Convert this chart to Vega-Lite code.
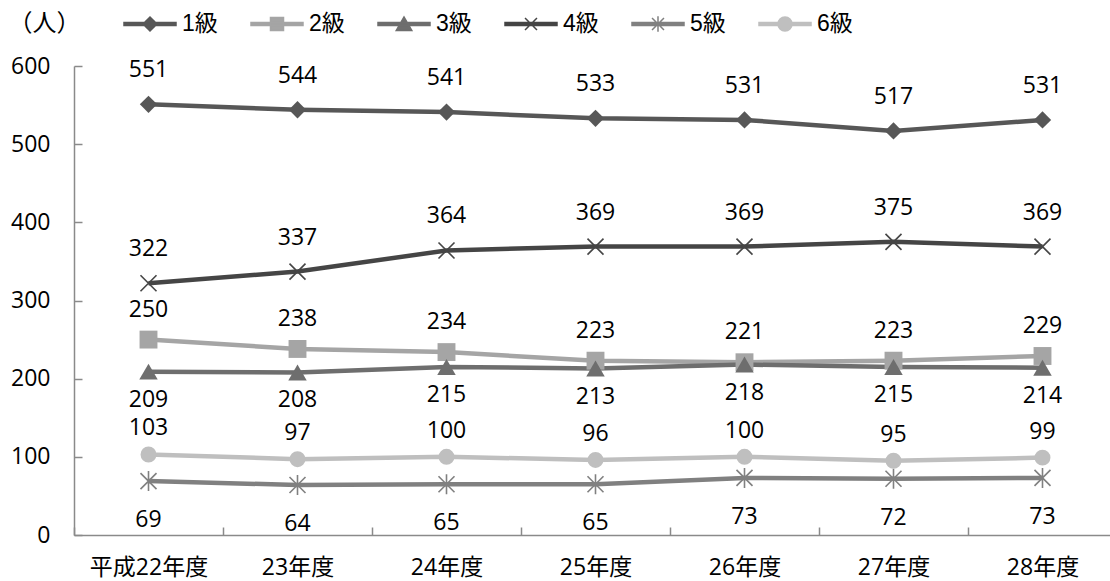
{
  "$schema": "https://vega.github.io/schema/vega-lite/v6.json",
  "width": 1036,
  "height": 469,
  "autosize": {"type": "none"},
  "padding": {"left": 74, "top": 66, "right": 0, "bottom": 46},
  "background": "white",
  "config": {"view": {"stroke": null}},
  "data": {
    "values": [
      {"year": "平成22年度", "grade": "1級", "value": 551},
      {"year": "23年度", "grade": "1級", "value": 544},
      {"year": "24年度", "grade": "1級", "value": 541},
      {"year": "25年度", "grade": "1級", "value": 533},
      {"year": "26年度", "grade": "1級", "value": 531},
      {"year": "27年度", "grade": "1級", "value": 517},
      {"year": "28年度", "grade": "1級", "value": 531},
      {"year": "平成22年度", "grade": "2級", "value": 250},
      {"year": "23年度", "grade": "2級", "value": 238},
      {"year": "24年度", "grade": "2級", "value": 234},
      {"year": "25年度", "grade": "2級", "value": 223},
      {"year": "26年度", "grade": "2級", "value": 221},
      {"year": "27年度", "grade": "2級", "value": 223},
      {"year": "28年度", "grade": "2級", "value": 229},
      {"year": "平成22年度", "grade": "3級", "value": 209},
      {"year": "23年度", "grade": "3級", "value": 208},
      {"year": "24年度", "grade": "3級", "value": 215},
      {"year": "25年度", "grade": "3級", "value": 213},
      {"year": "26年度", "grade": "3級", "value": 218},
      {"year": "27年度", "grade": "3級", "value": 215},
      {"year": "28年度", "grade": "3級", "value": 214},
      {"year": "平成22年度", "grade": "4級", "value": 322},
      {"year": "23年度", "grade": "4級", "value": 337},
      {"year": "24年度", "grade": "4級", "value": 364},
      {"year": "25年度", "grade": "4級", "value": 369},
      {"year": "26年度", "grade": "4級", "value": 369},
      {"year": "27年度", "grade": "4級", "value": 375},
      {"year": "28年度", "grade": "4級", "value": 369},
      {"year": "平成22年度", "grade": "5級", "value": 69},
      {"year": "23年度", "grade": "5級", "value": 64},
      {"year": "24年度", "grade": "5級", "value": 65},
      {"year": "25年度", "grade": "5級", "value": 65},
      {"year": "26年度", "grade": "5級", "value": 73},
      {"year": "27年度", "grade": "5級", "value": 72},
      {"year": "28年度", "grade": "5級", "value": 73},
      {"year": "平成22年度", "grade": "6級", "value": 103},
      {"year": "23年度", "grade": "6級", "value": 97},
      {"year": "24年度", "grade": "6級", "value": 100},
      {"year": "25年度", "grade": "6級", "value": 96},
      {"year": "26年度", "grade": "6級", "value": 100},
      {"year": "27年度", "grade": "6級", "value": 95},
      {"year": "28年度", "grade": "6級", "value": 99}
    ]
  },
  "encoding": {
    "x": {
      "field": "year",
      "type": "ordinal",
      "sort": null,
      "scale": {"type": "band", "paddingInner": 0, "paddingOuter": 0, "range": [0, 1043]},
      "axis": {
        "title": null,
        "labelAngle": 0,
        "labelFont": "Open Sans, Noto Sans CJK JP",
        "labelFontSize": 23,
        "labelColor": "#000000",
        "labelPadding": 29,
        "domainColor": "#8a8a8a",
        "domainWidth": 1.5,
        "tickColor": "#8a8a8a",
        "tickWidth": 1.5,
        "tickSize": -8,
        "tickBand": "extent",
        "grid": false
      }
    },
    "y": {
      "field": "value",
      "type": "quantitative",
      "scale": {"domain": [0, 600]},
      "axis": {
        "values": [0, 100, 200, 300, 400, 500, 600],
        "title": "（人）",
        "titleAngle": 0,
        "titleAlign": "left",
        "titleBaseline": "middle",
        "titleX": -66,
        "titleY": -43,
        "titleFont": "Liberation Sans, Noto Sans CJK JP",
        "titleFontSize": 24,
        "titleFontWeight": "normal",
        "titleColor": "#000000",
        "labelFont": "Open Sans",
        "labelFontSize": 23,
        "labelColor": "#000000",
        "labelPadding": 32,
        "domainColor": "#8a8a8a",
        "domainWidth": 1.5,
        "tickColor": "#8a8a8a",
        "tickWidth": 1.5,
        "tickSize": -8,
        "grid": false
      }
    }
  },
  "layer": [
    {
      "mark": {"type": "line", "strokeWidth": 4.5},
      "encoding": {
        "color": {
          "field": "grade",
          "type": "nominal",
          "scale": {
            "domain": ["1級", "2級", "3級", "4級", "5級", "6級"],
            "range": ["#575757", "#a5a5a5", "#6e6e6e", "#454545", "#808080", "#bfbfbf"]
          },
          "legend": {
            "orient": "none",
            "legendX": 49,
            "legendY": -69,
            "direction": "horizontal",
            "columns": 6,
            "title": null,
            "symbolSize": 2704,
            "symbolType": "circle",
            "labelFont": "Liberation Sans, Noto Sans CJK JP",
            "labelFontSize": 23,
            "labelColor": "#000000",
            "labelOffset": 5,
            "columnPadding": 30,
            "encode": {
              "symbols": {
                "update": {
                  "shape": {"signal": "datum.value === '1級' ? 'M-1,-0.06L1,-0.06L1,0.06L-1,0.06ZM-0.27,0L0,-0.27L0.27,0L0,0.27Z' : datum.value === '2級' ? 'M-1,-0.06L1,-0.06L1,0.06L-1,0.06ZM-0.25,-0.25L0.25,-0.25L0.25,0.25L-0.25,0.25Z' : datum.value === '3級' ? 'M-1,-0.06L1,-0.06L1,0.06L-1,0.06ZM-0.3,0.25L0,-0.27L0.3,0.25Z' : datum.value === '4級' ? 'M-1,-0.06L1,-0.06L1,0.06L-1,0.06ZM-0.23,-0.23L0.23,0.23M-0.23,0.23L0.23,-0.23' : datum.value === '5級' ? 'M-1,-0.06L1,-0.06L1,0.06L-1,0.06ZM-0.23,-0.23L0.23,0.23M-0.23,0.23L0.23,-0.23M0,-0.3L0,0.3' : 'M-1,-0.06L1,-0.06L1,0.06L-1,0.06ZM-0.27,0A0.27,0.27,0,1,1,0.27,0A0.27,0.27,0,1,1,-0.27,0Z'"},
                  "size": {"value": 2704},
                  "fill": {"signal": "scale('color', datum.value)"},
                  "stroke": {"signal": "scale('color', datum.value)"},
                  "strokeWidth": {"value": 1.5},
                  "opacity": {"value": 1},
                  "fillOpacity": {"value": 1},
                  "strokeOpacity": {"value": 1}
                }
              }
            }
          }
        },
        "detail": {"field": "grade"}
      }
    },
    {
      "transform": [{"filter": "datum.grade === '1級'"}],
      "mark": {"type": "point", "filled": true, "opacity": 1, "shape": "diamond", "size": 300, "color": "#575757"}
    },
    {
      "transform": [{"filter": "datum.grade === '2級'"}],
      "mark": {"type": "point", "filled": true, "opacity": 1, "shape": "square", "size": 320, "color": "#a5a5a5"}
    },
    {
      "transform": [{"filter": "datum.grade === '3級'"}],
      "mark": {"type": "point", "filled": true, "opacity": 1, "shape": "triangle-up", "size": 340, "color": "#6e6e6e"}
    },
    {
      "transform": [{"filter": "datum.grade === '4級'"}],
      "mark": {"type": "point", "filled": false, "opacity": 1, "shape": "M-1,-1L1,1M-1,1L1,-1", "size": 256, "strokeWidth": 1.6, "color": "#454545"}
    },
    {
      "transform": [{"filter": "datum.grade === '5級'"}],
      "mark": {"type": "point", "filled": false, "opacity": 1, "shape": "M-1,-1L1,1M-1,1L1,-1M0,-1.25L0,1.25", "size": 256, "strokeWidth": 1.6, "color": "#808080"}
    },
    {
      "transform": [{"filter": "datum.grade === '6級'"}],
      "mark": {"type": "point", "filled": true, "opacity": 1, "shape": "circle", "size": 254, "color": "#bfbfbf"}
    },
    {
      "transform": [{"filter": "datum.grade === '1級' || datum.grade === '4級'"}],
      "mark": {"type": "text", "dy": -34, "font": "Open Sans", "fontSize": 23, "color": "#000000", "baseline": "middle"},
      "encoding": {"text": {"field": "value", "type": "quantitative"}}
    },
    {
      "transform": [{"filter": "datum.grade === '2級'"}],
      "mark": {"type": "text", "dy": -30, "font": "Open Sans", "fontSize": 23, "color": "#000000", "baseline": "middle"},
      "encoding": {"text": {"field": "value", "type": "quantitative"}}
    },
    {
      "transform": [{"filter": "datum.grade === '6級'"}],
      "mark": {"type": "text", "dy": -26, "font": "Open Sans", "fontSize": 23, "color": "#000000", "baseline": "middle"},
      "encoding": {"text": {"field": "value", "type": "quantitative"}}
    },
    {
      "transform": [{"filter": "datum.grade === '3級'"}],
      "mark": {"type": "text", "dy": 28, "font": "Open Sans", "fontSize": 23, "color": "#000000", "baseline": "middle"},
      "encoding": {"text": {"field": "value", "type": "quantitative"}}
    },
    {
      "transform": [{"filter": "datum.grade === '5級'"}],
      "mark": {"type": "text", "dy": 39, "font": "Open Sans", "fontSize": 23, "color": "#000000", "baseline": "middle"},
      "encoding": {"text": {"field": "value", "type": "quantitative"}}
    }
  ]
}
